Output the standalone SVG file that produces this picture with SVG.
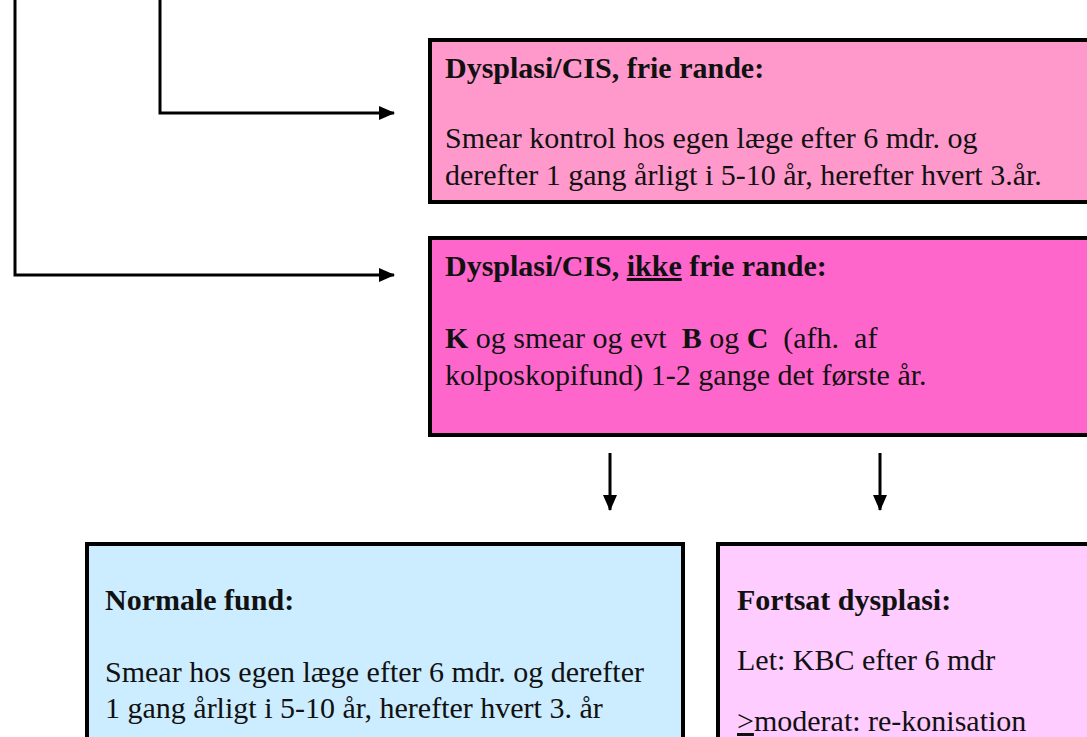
<svg xmlns="http://www.w3.org/2000/svg" width="1087" height="737" viewBox="0 0 1087 737">
<style>
.box{stroke:#000;stroke-width:4}
.t{font-family:"Liberation Serif","Times New Roman",serif;font-size:30px;fill:#111;white-space:pre}
.b{font-weight:bold}
.conn{fill:none;stroke:#000;stroke-width:3}
</style>
<defs>
<marker id="ah" viewBox="0 0 16 14" refX="15" refY="7" markerWidth="16" markerHeight="14" markerUnits="userSpaceOnUse" orient="auto">
<path d="M0,0 L16,7 L0,14 z" fill="#000"/>
</marker>
</defs>
<rect width="1087" height="737" fill="#fff"/>
<g id="connectors">
<path class="conn" d="M15,0 V275 H394" marker-end="url(#ah)"/>
<path class="conn" d="M160,0 V113 H394" marker-end="url(#ah)"/>
<path class="conn" d="M610,453 V510" marker-end="url(#ah)"/>
<path class="conn" d="M880,453 V510" marker-end="url(#ah)"/>
</g>
<g id="frie">
<rect class="box" x="430" y="40" width="680" height="162" fill="#FF99CC"/>
<text class="t b" x="445" y="78">Dysplasi/CIS, frie rande:</text>
<text class="t" x="445" y="148">Smear kontrol hos egen læge efter 6 mdr. og</text>
<text class="t" x="445" y="185">derefter 1 gang årligt i 5-10 år, herefter hvert 3.år.</text>
</g>
<g id="ikkefrie">
<rect class="box" x="430" y="238" width="680" height="197" fill="#FF66CC"/>
<text class="t b" x="445" y="276">Dysplasi/CIS, <tspan text-decoration="underline">ikke</tspan> frie rande:</text>
<text class="t" x="445" y="348"><tspan class="b">K</tspan> og smear og evt  <tspan class="b">B</tspan> og <tspan class="b">C</tspan>  (afh.  af</text>
<text class="t" x="445" y="385">kolposkopifund) 1-2 gange det første år.</text>
</g>
<g id="normale">
<rect class="box" x="87" y="544" width="596" height="220" fill="#CCECFF"/>
<text class="t b" x="105" y="610">Normale fund:</text>
<text class="t" x="105" y="682">Smear hos egen læge efter 6 mdr. og derefter</text>
<text class="t" x="105" y="718">1 gang årligt i 5-10 år, herefter hvert 3. år</text>
</g>
<g id="fortsat">
<rect class="box" x="718" y="544" width="400" height="220" fill="#FFCCFF"/>
<text class="t b" x="737" y="610">Fortsat dysplasi:</text>
<text class="t" x="737" y="670">Let: KBC efter 6 mdr</text>
<text class="t" x="737" y="731"><tspan text-decoration="underline">&gt;</tspan>moderat: re-konisation</text>
</g>
</svg>
